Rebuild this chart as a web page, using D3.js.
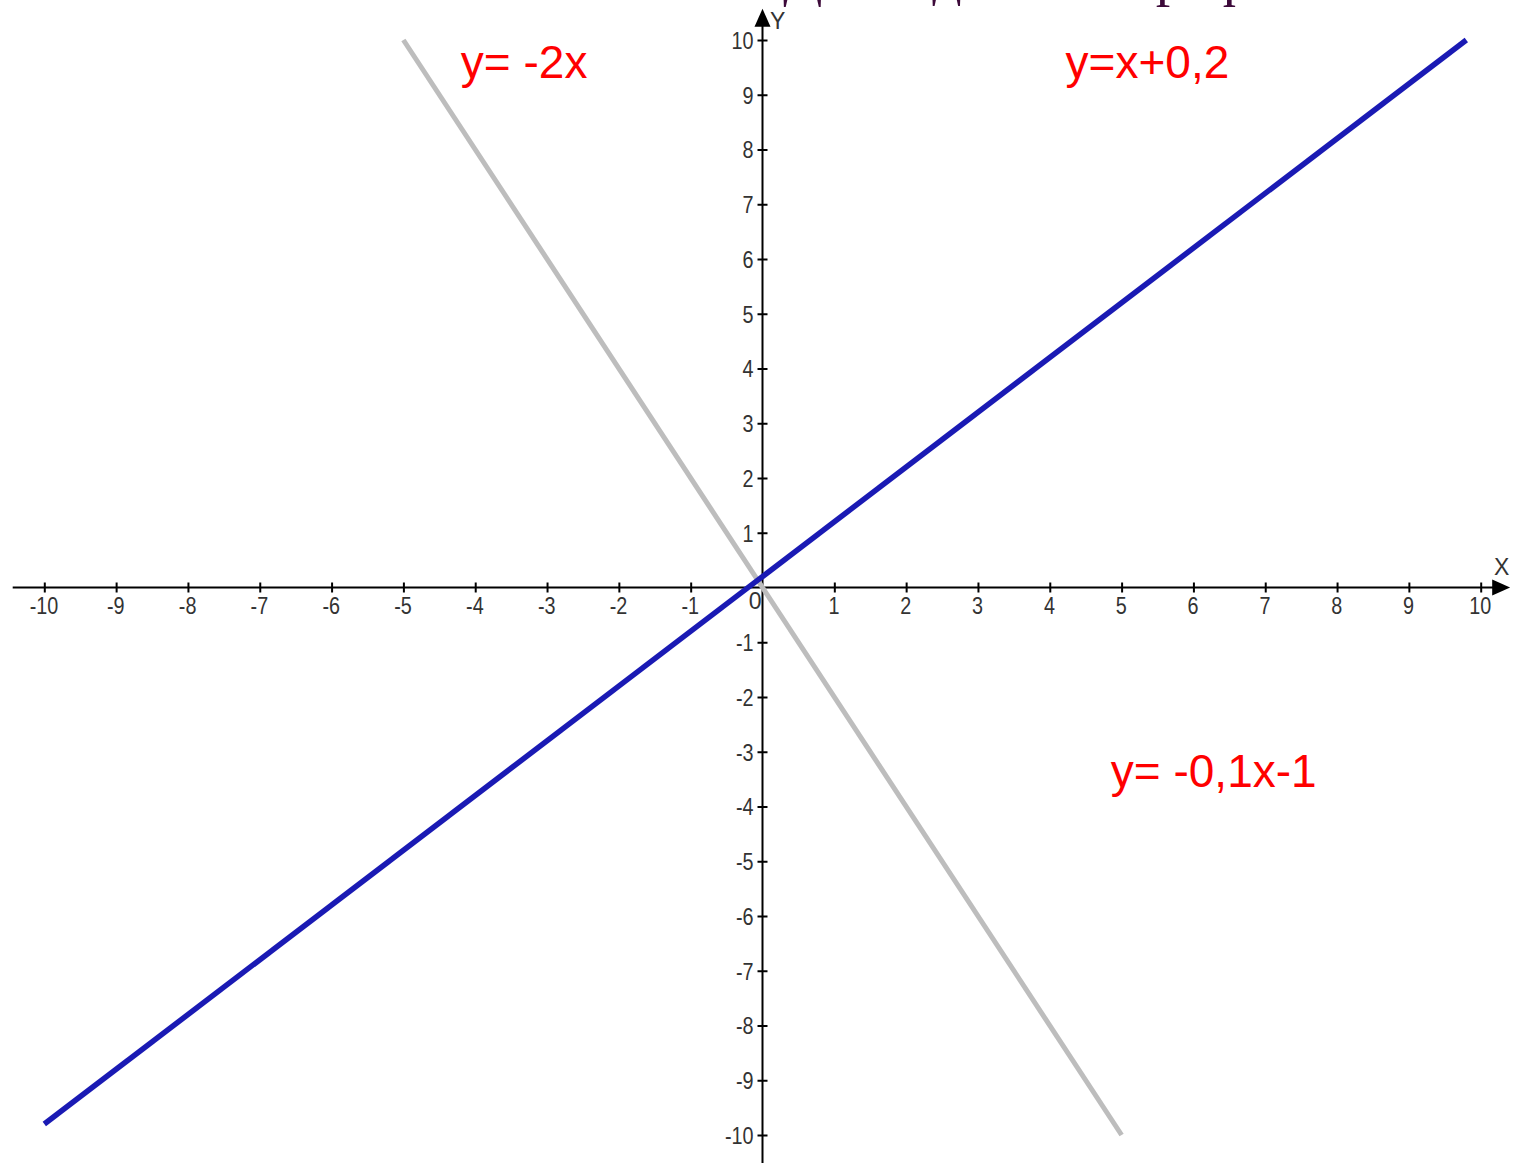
<!DOCTYPE html>
<html>
<head>
<meta charset="utf-8">
<title>Графики линейных функций</title>
<script src="https://d3js.org/d3.v7.min.js"></script>
<style>
  body { margin: 0; background: #fff; overflow: hidden; }
  .tick text { font-family: 'Liberation Sans', Arial, sans-serif; font-size: 23px; fill: #333; }
</style>
</head>
<body>
<div id="chart"></div>
<script>
// data
var xTicks = [-10,-9,-8,-7,-6,-5,-4,-3,-2,-1,1,2,3,4,5,6,7,8,9,10];
var yTicks = [-10,-9,-8,-7,-6,-5,-4,-3,-2,-1,1,2,3,4,5,6,7,8,9,10];
// y = x + 0,2  (blue), clipped at y = 10
var blueX = [-10, 9.8];
var blueY = [-9.8, 10];
// y = -2x  (grey)
var greyX = [-5, 5];
var greyY = [10, -10];
var labels = ["y= -2x", "y=x+0,2", "y= -0,1x-1"];
var labelX = [-4.2, 4.22, 4.85];
var labelY = [9.3, 9.3, -3.65];
var titleWords = ["Для", "данных графиков"];

var width = 1513, height = 1163;

var svg = d3.select("#chart")
  .append("svg")
    .attr("width", width)
    .attr("height", height);

var x = d3.scaleLinear().domain([-10, 10]).range([44.3, 1480.7]);
var y = d3.scaleLinear().domain([-10, 10]).range([1135, 40]);

// cut-off title at the very top
var title = svg.append("text")
  .attr("x", 783)
  .attr("y", -5)
  .style("font-family", "'Liberation Serif', 'Times New Roman', serif")
  .style("font-size", "58px")
  .style("fill", "#3d0a3a");
title.append("tspan").text(titleWords[0]);
title.append("tspan").attr("dx", 54).text(titleWords[1]);

// x axis
var xAxis = svg.append("g")
  .attr("transform", "translate(0," + y(0) + ")")
  .call(d3.axisBottom(x).tickValues(xTicks).tickSize(5).tickFormat(function(d) { return String(d); }));
xAxis.select(".domain").remove();
xAxis.selectAll(".tick line").attr("y1", -5).attr("y2", 5).attr("stroke", "#000").attr("stroke-width", 2);
xAxis.selectAll(".tick text").attr("y", 10).attr("dy", "0.71em").attr("x", -1)
  .attr("transform", "scale(0.86,1)");

svg.append("line")
  .attr("x1", x(-10.44)).attr("x2", x(10.2))
  .attr("y1", y(0)).attr("y2", y(0))
  .attr("stroke", "#000").attr("stroke-width", 2);
svg.append("path")
  .attr("d", "M" + x(10.41) + "," + y(0) + "L" + x(10.16) + "," + (y(0) - 8) + "L" + x(10.16) + "," + (y(0) + 8) + "Z")
  .attr("fill", "#000");
svg.append("text")
  .attr("x", 1494).attr("y", 575)
  .style("font-family", "'Liberation Sans', Arial, sans-serif")
  .style("font-size", "23px").style("fill", "#333")
  .text("X");

// y axis
var yAxis = svg.append("g")
  .attr("transform", "translate(" + x(0) + ",0)")
  .call(d3.axisLeft(y).tickValues(yTicks).tickSize(5).tickFormat(function(d) { return String(d); }));
yAxis.select(".domain").remove();
yAxis.selectAll(".tick line").attr("x1", -5).attr("x2", 5).attr("stroke", "#000").attr("stroke-width", 2);
yAxis.selectAll(".tick text").attr("x", -10.5).attr("dy", "0.36em")
  .attr("transform", "scale(0.86,1)");

svg.append("line")
  .attr("x1", x(0)).attr("x2", x(0))
  .attr("y1", y(10.3)).attr("y2", y(-10.6))
  .attr("stroke", "#000").attr("stroke-width", 2);
svg.append("path")
  .attr("d", "M" + x(0) + "," + y(10.57) + "L" + (x(0) - 8) + "," + y(10.24) + "L" + (x(0) + 8) + "," + y(10.24) + "Z")
  .attr("fill", "#000");
svg.append("text")
  .attr("x", 770).attr("y", 29)
  .style("font-family", "'Liberation Sans', Arial, sans-serif")
  .style("font-size", "23px").style("fill", "#333")
  .text("Y");

// origin label
svg.append("text")
  .attr("x", x(0) - 1).attr("y", y(0) + 21)
  .attr("text-anchor", "end")
  .style("font-family", "'Liberation Sans', Arial, sans-serif")
  .style("font-size", "23px").style("fill", "#333")
  .text("0");

// lines
var line = d3.line()
  .x(function(d) { return x(d[0]); })
  .y(function(d) { return y(d[1]); });

svg.append("path")
  .datum(d3.zip(greyX, greyY))
  .attr("d", line)
  .attr("fill", "none")
  .attr("stroke", "#bdbdbd")
  .attr("stroke-width", 5);

svg.append("path")
  .datum(d3.zip(blueX, blueY))
  .attr("d", line)
  .attr("fill", "none")
  .attr("stroke", "#1a1ab4")
  .attr("stroke-width", 5.5);

// equation labels
svg.selectAll(".eq")
  .data(labels)
  .enter().append("text")
    .attr("class", "eq")
    .attr("x", function(d, i) { return x(labelX[i]); })
    .attr("y", function(d, i) { return y(labelY[i]); })
    .style("font-family", "'Liberation Sans', Arial, sans-serif")
    .style("font-size", "46px")
    .style("fill", "#ff0000")
    .text(function(d) { return d; });
</script>
</body>
</html>
